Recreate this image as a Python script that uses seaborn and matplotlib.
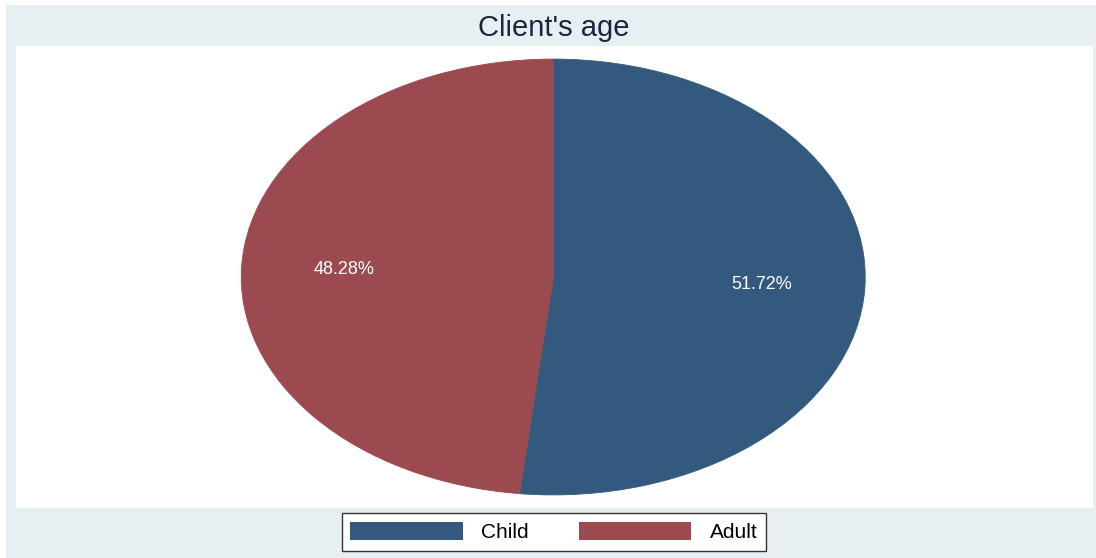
import matplotlib
matplotlib.use('Agg')
import matplotlib.pyplot as plt
import seaborn as sns
from matplotlib.patches import Rectangle, Patch

sns.set_theme(style='white')
plt.rcParams['font.family'] = ['Liberation Sans', 'DejaVu Sans']

# data
categories = ['Child', 'Adult']
shares = [51.72, 48.28]
colors = ['#335A7E', '#9B4A50']

fig = plt.figure(figsize=(10.96, 5.58), dpi=100)
fig.patch.set_facecolor('white')

# stata-like light background
W, H = 1096, 558
bg = Rectangle((6 / W, 0), 1 - 6 / W, 1 - 5 / H, transform=fig.transFigure,
               facecolor='#E8EFF2', edgecolor='none', zorder=-5)
fig.patches.append(bg)

ax = fig.add_axes([16 / W, 1 - 508 / H, (1093 - 16) / W, (508 - 46) / H])
ax.set_zorder(2)

wedges, texts, autotexts = ax.pie(shares, colors=colors, startangle=90, counterclock=False,
                                  autopct='%.2f%%', pctdistance=0.67,
                                  wedgeprops=dict(linewidth=0.6),
                                  textprops=dict(color='white', fontsize=13))
for w, c in zip(wedges, colors):
    w.set_edgecolor(c)
ax.set_frame_on(True)
ax.set_facecolor('white')
ax.set_aspect('auto')
# ellipse shape like the reference
ax.set_xlim(-1.722, 1.730)
ax.set_ylim(-1.06, 1.06)
ax.set_xticks([])
ax.set_yticks([])
for s in ax.spines.values():
    s.set_visible(False)

fig.text(554 / W, 1 - 28 / H, "Client's age", ha='center', va='center',
         fontsize=21, color='#1C2540')

handles = [Patch(facecolor=c, edgecolor='none') for c in colors]
leg = fig.legend(handles, categories, ncol=2, loc='center', bbox_to_anchor=(554 / W, 1 - 532 / H),
                 fontsize=15, handlelength=5.4, handleheight=1.0, columnspacing=2.4,
                 handletextpad=0.9, frameon=True, fancybox=False, borderpad=0.4,
                 borderaxespad=0.0, framealpha=1.0, labelcolor='black')
leg.set_zorder(3)
leg.get_frame().set_edgecolor('#333333')
leg.get_frame().set_linewidth(1.0)
leg.get_frame().set_facecolor('white')

fig.savefig('out.png', dpi=100, facecolor=fig.get_facecolor())
